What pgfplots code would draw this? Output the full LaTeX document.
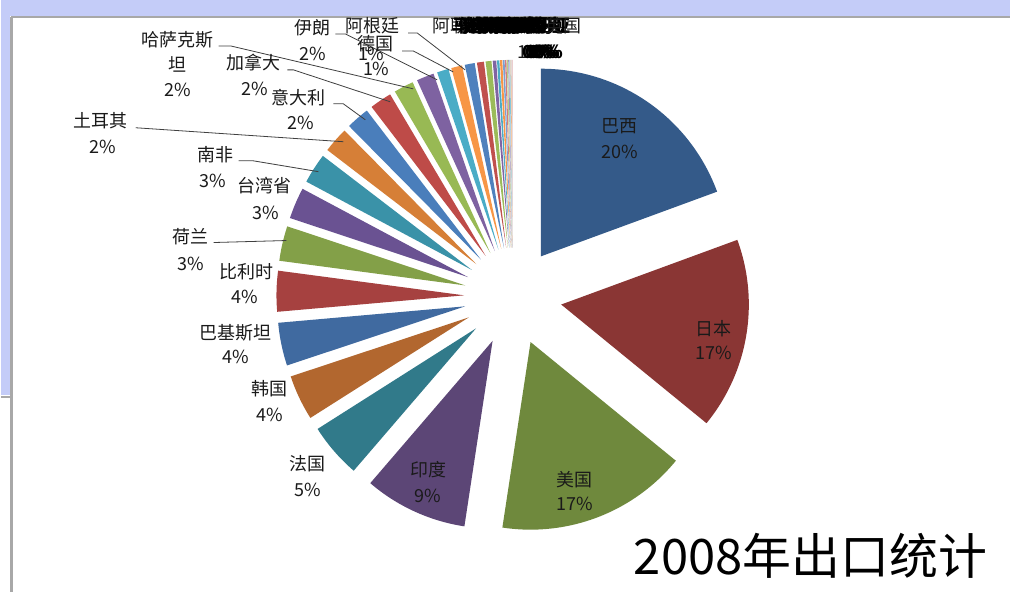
\documentclass[border=0pt]{standalone}
\usepackage{fontspec}
\setmainfont{Noto Sans CJK SC}
\usepackage{xcolor}
\usepackage{pgfplots}
\usepackage{pgfplotstable}
\pgfplotsset{compat=1.18}

% slice colours, clockwise from the top
\definecolor{s1}{HTML}{345A89}
\definecolor{s2}{HTML}{8A3634}
\definecolor{s3}{HTML}{6F893D}
\definecolor{s4}{HTML}{5C4676}
\definecolor{s5}{HTML}{317A8A}
\definecolor{s6}{HTML}{B2672F}
\definecolor{s7}{HTML}{406AA0}
\definecolor{s8}{HTML}{A64140}
\definecolor{s9}{HTML}{83A048}
\definecolor{s10}{HTML}{6A5292}
\definecolor{s11}{HTML}{3A92A8}
\definecolor{s12}{HTML}{D67F37}
\definecolor{s13}{HTML}{4A7EBB}
\definecolor{s14}{HTML}{BE4B48}
\definecolor{s15}{HTML}{98B954}
\definecolor{s16}{HTML}{7E62A1}
\definecolor{s17}{HTML}{4AACC6}
\definecolor{s18}{HTML}{F79646}
\definecolor{s19}{HTML}{4F81BD}
\definecolor{s20}{HTML}{C0504D}
\definecolor{s21}{HTML}{9BBB59}
\definecolor{s22}{HTML}{8064A2}
\definecolor{s23}{HTML}{4BACC6}
\definecolor{s24}{HTML}{F79646}
\definecolor{s25}{HTML}{7C9FD0}
\definecolor{s26}{HTML}{D27E7C}
\definecolor{s27}{HTML}{B6CF87}
\definecolor{s28}{HTML}{A28DBA}
\definecolor{s29}{HTML}{86C7DA}
\definecolor{s30}{HTML}{F9B27A}
\definecolor{s31}{HTML}{B9CCE6}
\definecolor{s32}{HTML}{E6B9B8}
\definecolor{lav}{HTML}{C4CCF8}
\definecolor{frame}{HTML}{A8A8A8}
\definecolor{txt}{HTML}{1A1A1A}

% 2008 export shares (%)
\pgfplotstableread[col sep=comma]{
country,share,fillc
巴西,19.4,s1
日本,16.5,s2
美国,16.5,s3
印度,8.9,s4
法国,4.7,s5
韩国,3.9,s6
巴基斯坦,3.7,s7
比利时,3.5,s8
荷兰,3.0,s9
台湾省,2.7,s10
南非,2.6,s11
土耳其,2.2,s12
意大利,2.0,s13
加拿大,1.9,s14
哈萨克斯坦,1.7,s15
伊朗,1.5,s16
德国,1.0,s17
阿根廷,0.94,s18
阿联酋,0.86,s19
马来西亚,0.6,s20
俄罗斯,0.5,s21
越南,0.3,s22
印尼,0.2,s23
泰国,0.2,s24
新加坡,0.15,s25
埃及,0.12,s26
墨西哥,0.1,s27
澳大利亚,0.08,s28
西班牙,0.08,s29
沙特,0.07,s30
伊拉克,0.05,s31
英国,0.05,s32
}\exportdata

\newcommand{\lab}{\fontsize{18}{20}\selectfont}
\tikzset{
  ldr/.style={draw=black!75, line width=0.8pt},
  lb/.style={text=txt, font=\lab, inner sep=0pt},
  jm/.style={text=black, font=\lab\bfseries, inner sep=0pt, anchor=west},
}

\begin{document}
\begin{tikzpicture}
\begin{axis}[
  x=1pt, y=1pt,
  xmin=0, xmax=1011, ymin=0, ymax=593,
  y dir=reverse,
  hide axis, clip=false, scale only axis,
]
  % slide background
  \fill[white] (axis cs:0,0) rectangle (axis cs:1011,593);
  \fill[lav] (axis cs:0,0) rectangle (axis cs:1011,16);
  \fill[lav] (axis cs:0,0) rectangle (axis cs:9,396);
  \draw[frame, line width=2.5pt] (axis cs:10.5,17) -- (axis cs:10.5,593);
  \draw[frame, line width=2pt] (axis cs:10,17.5) -- (axis cs:1011,17.5);
  \draw[frame, line width=2pt] (axis cs:0,397.5) -- (axis cs:9,397.5);

  % exploded pie: centre (513,297), radius 188, explosion 49
  \pgfplotstablegetrowsof{\exportdata}
  \pgfmathtruncatemacro\lastrow{\pgfplotsretval-1}
  \def\cum{0}
  \pgfplotsforeachungrouped \i in {0,...,\lastrow}{%
    \pgfplotstablegetelem{\i}{share}\of\exportdata
    \let\share\pgfplotsretval
    \pgfplotstablegetelem{\i}{fillc}\of\exportdata
    \let\fc\pgfplotsretval
    \pgfmathsetmacro\angA{90-3.6*\cum}
    \pgfmathsetmacro\angB{90-3.6*(\cum+\share)}
    \pgfmathsetmacro\angM{(\angA+\angB)/2}
    \pgfmathsetmacro\apx{513+49*cos(\angM)}
    \pgfmathsetmacro\apy{297-49*sin(\angM)}
    \edef\drawslice{\noexpand\addplot[fill=\fc, draw=none, domain=\angB:\angA,
      samples=40, variable=\noexpand\ang]
      ({\apx+188*cos(\noexpand\ang)}, {\apy-188*sin(\noexpand\ang)})
      -- (axis cs:\apx,\apy) -- cycle;}
    \drawslice
    \pgfmathsetmacro\cum{\cum+\share}
  }

  % leader lines
  \draw[ldr] (axis cs:213,243) -- (axis cs:286,241);
  \draw[ldr] (axis cs:238,161) -- (axis cs:252,161) -- (axis cs:318,172);
  \draw[ldr] (axis cs:135,128) -- (axis cs:343,142);
  \draw[ldr] (axis cs:333,104) -- (axis cs:343,104) -- (axis cs:365,120);
  \draw[ldr] (axis cs:287,70) -- (axis cs:293,70) -- (axis cs:390,102);
  \draw[ldr] (axis cs:218,46) -- (axis cs:230,46) -- (axis cs:413,89);
  \draw[ldr] (axis cs:335,34) -- (axis cs:345,34) -- (axis cs:437,80);
  \draw[ldr] (axis cs:402,51) -- (axis cs:413,51) -- (axis cs:453,72);
  \draw[ldr] (axis cs:408,33) -- (axis cs:417,33) -- (axis cs:465,70);

  % labels
  \node[lb] at (axis cs:620,126) {巴西};      \node[lb] at (axis cs:620,152) {20\%};
  \node[lb] at (axis cs:714,329) {日本};      \node[lb] at (axis cs:714,354) {17\%};
  \node[lb] at (axis cs:575,481) {美国};      \node[lb] at (axis cs:575,505) {17\%};
  \node[lb] at (axis cs:428,471) {印度};      \node[lb] at (axis cs:428,497) {9\%};
  \node[lb] at (axis cs:307,465) {法国};      \node[lb] at (axis cs:307,491) {5\%};
  \node[lb] at (axis cs:269,389) {韩国};      \node[lb] at (axis cs:269,416) {4\%};
  \node[lb] at (axis cs:235,333) {巴基斯坦};  \node[lb] at (axis cs:235,358) {4\%};
  \node[lb] at (axis cs:246,272) {比利时};    \node[lb] at (axis cs:244,298) {4\%};
  \node[lb] at (axis cs:190,237) {荷兰};      \node[lb] at (axis cs:190,264) {3\%};
  \node[lb] at (axis cs:264,186) {台湾省};    \node[lb] at (axis cs:265,213) {3\%};
  \node[lb] at (axis cs:215,155) {南非};      \node[lb] at (axis cs:212,181) {3\%};
  \node[lb] at (axis cs:100,121) {土耳其};    \node[lb] at (axis cs:102,147) {2\%};
  \node[lb] at (axis cs:298,98) {意大利};     \node[lb] at (axis cs:300,123) {2\%};
  \node[lb] at (axis cs:253,63) {加拿大};     \node[lb] at (axis cs:254,89) {2\%};
  \node[lb] at (axis cs:177,40) {哈萨克斯};   \node[lb] at (axis cs:177,65) {坦};
  \node[lb] at (axis cs:177,90) {2\%};
  \node[lb] at (axis cs:312,28) {伊朗};       \node[lb] at (axis cs:312,54) {2\%};
  \node[lb] at (axis cs:372,26) {阿根廷};     \node[lb] at (axis cs:371,54) {1\%};
  \node[lb] at (axis cs:375,44) {德国};       \node[lb] at (axis cs:376,69) {1\%};

  % the small slices' labels fall on top of each other
  \node[lb, anchor=west] at (axis cs:432,26) {阿联酋};
  \node[jm] at (axis cs:452,26) {马来西亚};
  \node[jm] at (axis cs:458,26) {俄罗斯};
  \node[jm] at (axis cs:464,26) {越南};
  \node[jm] at (axis cs:470,26) {印尼};
  \node[jm] at (axis cs:476,26) {泰国};
  \node[jm] at (axis cs:482,26) {新加坡};
  \node[jm] at (axis cs:488,26) {埃及};
  \node[jm] at (axis cs:494,26) {墨西哥};
  \node[jm] at (axis cs:498,26) {澳大利亚};
  \node[jm] at (axis cs:502,26) {西班牙};
  \node[jm] at (axis cs:506,26) {沙特};
  \node[jm] at (axis cs:510,26) {伊拉克};
  \node[lb, anchor=east] at (axis cs:582,26) {英国};
  \node[lb, anchor=west] at (axis cs:517,52) {1\%};
  \node[jm] at (axis cs:522,52) {0\%};
  \node[jm] at (axis cs:525,52) {0\%};
  \node[jm] at (axis cs:528,52) {0\%};
  \node[jm] at (axis cs:531,52) {0\%};
  \node[jm] at (axis cs:534,52) {0\%};

  % title
  \node[font=\fontsize{49}{55}\selectfont, text=black, inner sep=0pt] at (axis cs:811,557) {2008年出口统计};
\end{axis}
\end{tikzpicture}
\end{document}
